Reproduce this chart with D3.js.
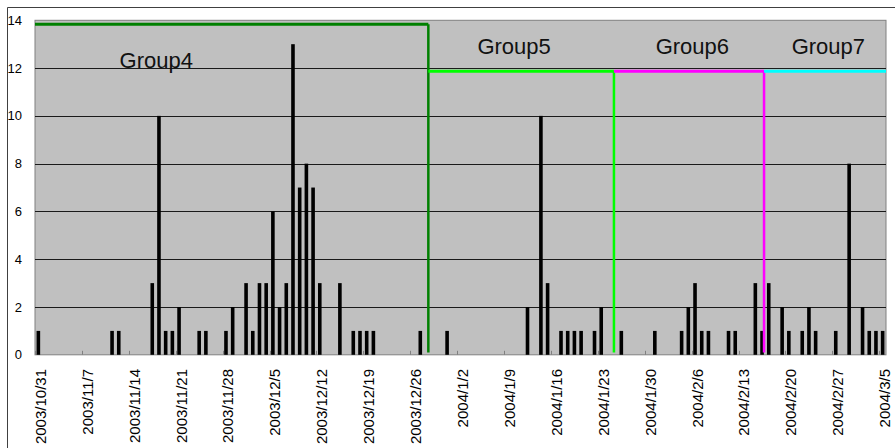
<!DOCTYPE html>
<html><head><meta charset="utf-8">
<script src="https://cdn.jsdelivr.net/npm/d3@7"></script>
<style>body{margin:0;background:#fff} svg{display:block}</style>
</head><body>
<svg id="c" width="895" height="448"></svg>
<script>
// ---- DATA ----
const categories = d3.timeDay.range(new Date(2003, 9, 31), new Date(2004, 2, 6)).map(d3.timeFormat("%Y/%-m/%-d"));
const values = [
  1,0,0,0,0,0,0,0,0,0,
  0,1,1,0,0,0,0,3,10,1,
  1,2,0,0,1,1,0,0,1,2,
  0,3,1,3,3,6,2,3,13,7,
  8,7,3,0,0,3,0,1,1,1,
  1,0,0,0,0,0,0,1,0,0,
  0,1,0,0,0,0,0,0,0,0,
  0,0,0,2,0,10,3,0,1,1,
  1,1,0,1,2,0,0,1,0,0,
  0,0,1,0,0,0,1,2,3,1,
  1,0,0,1,1,0,0,3,1,3,
  0,2,1,0,1,2,1,0,0,1,
  0,8,0,2,1,1,1
];
const tickLabels = ["2003/10/31","2003/11/7","2003/11/14","2003/11/21","2003/11/28","2003/12/5","2003/12/12","2003/12/19","2003/12/26","2004/1/2","2004/1/9","2004/1/16","2004/1/23","2004/1/30","2004/2/6","2004/2/13","2004/2/20","2004/2/27","2004/3/5"];
const yTicks = [0,2,4,6,8,10,12,14];
const groupNames = ["Group4","Group5","Group6","Group7"];
const groupLevels = [13.83, 11.87, 11.87, 11.87];
const groupStart = [-0.5, 58.2, 85.9, 108.3];   // in day units
const groupEnd   = [58.2, 85.9, 108.3, 126.5];

// ---- STYLE / LAYOUT ----
const groupColors = ["#008000","#00ff00","#ff00ff","#00ffff"];
const groupLabelDay = [17.6, 71.0, 97.6, 117.9];
const groupLabelVal = [12.0, 12.57, 12.57, 12.57];
const M = {left:35, right:886, top:20.3, bottom:354.8};
const svg = d3.select("#c");

const x = d3.scaleBand().domain(categories).range([M.left, M.right]).padding(0);
const xc = d3.scaleLinear().domain([-0.5, categories.length - 0.5]).range([M.left, M.right]);
const y = d3.scaleLinear().domain([0, 14]).range([M.bottom, M.top]);

// outer frame
svg.append("line").attr("x1",7.5).attr("y1",7.5).attr("x2",895).attr("y2",7.5).attr("stroke","#404040");
svg.append("line").attr("x1",7.5).attr("y1",7.5).attr("x2",7.5).attr("y2",448).attr("stroke","#404040");

// plot background
svg.append("rect").attr("x",M.left).attr("y",M.top).attr("width",M.right-M.left).attr("height",M.bottom-M.top)
  .attr("fill","#c0c0c0").attr("stroke","#808080").attr("stroke-width",1);

// gridlines
svg.append("g").selectAll("line").data(yTicks.filter(v => v > 0 && v < 14)).join("line")
  .attr("x1",M.left).attr("x2",M.right)
  .attr("y1",d => Math.round(y(d))+0.5).attr("y2",d => Math.round(y(d))+0.5)
  .attr("stroke","#1a1a1a").attr("stroke-width",1);

// y labels
svg.append("g").selectAll("text").data(yTicks).join("text")
  .attr("x",22).attr("y",d => y(d)).attr("dy","0.35em").attr("text-anchor","end")
  .attr("font-family","Liberation Sans, Arial, sans-serif").attr("font-size",13).attr("fill","#000")
  .text(d => d);

// bars
const barW = 3.6;
svg.append("g").selectAll("rect").data(values.map((v,i) => ({c:categories[i], v})).filter(d => d.v > 0)).join("rect")
  .attr("x",d => x(d.c) + x.bandwidth()/2 - barW/2).attr("width",barW)
  .attr("y",d => y(d.v)).attr("height",d => y(0) - y(d.v))
  .attr("fill","#000");

// small tick marks (between categories, every 7 days)
svg.append("g").selectAll("line").data(tickLabels).join("line")
  .attr("x1",d => Math.round(xc(categories.indexOf(d) - 0.5))+0.5)
  .attr("x2",d => Math.round(xc(categories.indexOf(d) - 0.5))+0.5)
  .attr("y1",M.bottom-4).attr("y2",M.bottom)
  .attr("stroke","#808080").attr("stroke-width",1);

// x labels
svg.append("g").selectAll("text").data(tickLabels).join("text")
  .attr("transform",d => `translate(${x(d) + x.bandwidth()/2},369) rotate(-90)`)
  .attr("dy","0.5em").attr("text-anchor","end")
  .attr("font-family","Liberation Sans, Arial, sans-serif").attr("font-size",15).attr("fill","#000")
  .text(d => d);

// group lines
const gl = svg.append("g").attr("fill","none");
groupNames.forEach((g,i) => {
  gl.append("line").attr("x1",xc(groupStart[i])).attr("x2",xc(groupEnd[i]))
    .attr("y1",y(groupLevels[i])).attr("y2",y(groupLevels[i]))
    .attr("stroke",groupColors[i]).attr("stroke-width",3);
  if (i < groupNames.length - 1) {
    gl.append("line").attr("x1",xc(groupEnd[i])).attr("x2",xc(groupEnd[i]))
      .attr("y1",y(groupLevels[i])).attr("y2",y(0.1))
      .attr("stroke",groupColors[i]).attr("stroke-width",2.5);
  }
});

// group labels
svg.append("g").selectAll("text").data(groupNames).join("text")
  .attr("x",(d,i) => xc(groupLabelDay[i])).attr("y",(d,i) => y(groupLabelVal[i]))
  .attr("text-anchor","middle")
  .attr("font-family","Liberation Sans, Arial, sans-serif").attr("font-size",22).attr("fill","#111")
  .text(d => d);
</script>
</body></html>
